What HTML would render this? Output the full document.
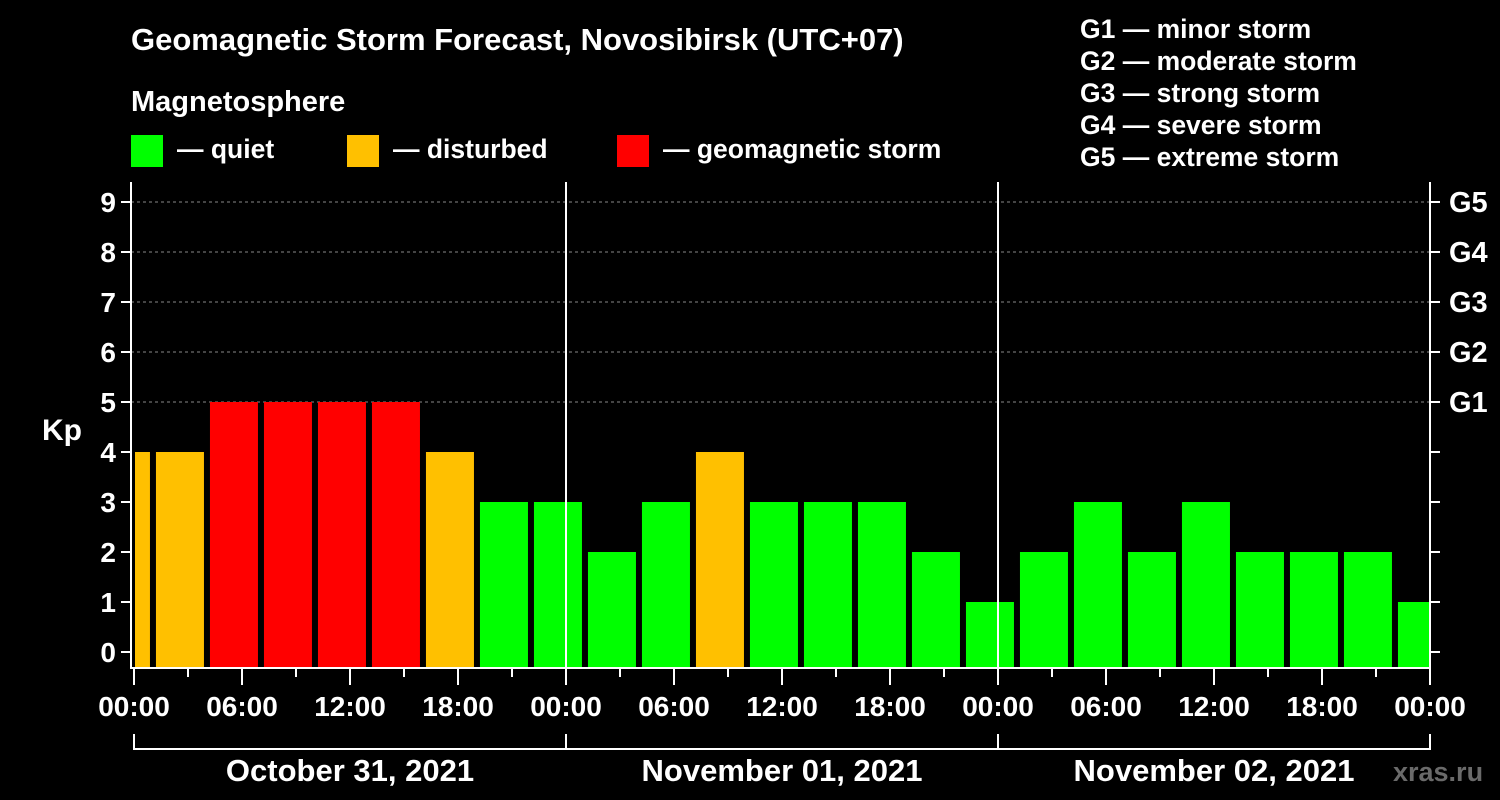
<!DOCTYPE html>
<html><head><meta charset="utf-8"><style>
html,body{margin:0;padding:0;background:#000;width:1500px;height:800px;overflow:hidden}
svg text{font-family:"Liberation Sans",Arial,sans-serif;font-weight:bold;fill:#fff}
</style></head><body>
<svg id="chart" width="1500" height="800" xmlns="http://www.w3.org/2000/svg">
<text x="131" y="50" font-size="31">Geomagnetic Storm Forecast, Novosibirsk (UTC+07)</text>
<text x="131" y="111" font-size="29">Magnetosphere</text>
<g>
<rect x="131" y="135" width="32" height="32" fill="#00ff00"/>
<text x="177" y="158" font-size="26.5">— quiet</text>
<rect x="347" y="135" width="32" height="32" fill="#ffc000"/>
<text x="393" y="158" font-size="26.5">— disturbed</text>
<rect x="617" y="135" width="32" height="32" fill="#ff0000"/>
<text x="663" y="158" font-size="26.5">— geomagnetic storm</text>
</g>
<g font-size="26.5">
<text x="1080" y="38">G1 — minor storm</text>
<text x="1080" y="70">G2 — moderate storm</text>
<text x="1080" y="102">G3 — strong storm</text>
<text x="1080" y="134">G4 — severe storm</text>
<text x="1080" y="166">G5 — extreme storm</text>
</g>
<text x="42" y="440" font-size="30">Kp</text>
<text x="1393" y="781" font-size="27" style="fill:#6a6a6a">xras.ru</text>
<g id="grid"></g><g id="bars"></g><g id="axes"></g>
</svg>
<script>
const kpValues=[4,4,5,5,5,5,4,3,3,2,3,4,3,3,3,2,1,2,3,2,3,2,2,2,1];
const yTicks=[0,1,2,3,4,5,6,7,8,9];
const gLabels=["","","","","","G1","G2","G3","G4","G5"];
const xTickLabels=["00:00","06:00","12:00","18:00","00:00","06:00","12:00","18:00","00:00","06:00","12:00","18:00","00:00"];
const dateLabels=["October 31, 2021","November 01, 2021","November 02, 2021"];
const firstBarHour=-1.78;
const NS="http://www.w3.org/2000/svg";
const L=131,R=1430,T=182,B=668;
const x=h=>134+h*18;
const y=k=>652-k*50;
function mk(tag,attrs,parent,txt){const e=document.createElementNS(NS,tag);for(const k in attrs)e.setAttribute(k,attrs[k]);if(txt!=null)e.textContent=txt;document.getElementById(parent).appendChild(e);return e;}
const color=k=>k>=5?"#ff0000":(k>=4?"#ffc000":"#00ff00");
yTicks.forEach(k=>{if(k>=5){const g=mk("line",{x1:L,x2:R,y1:y(k),y2:y(k),stroke:"#888","stroke-dasharray":"3,3","stroke-width":1},"grid");

}});
kpValues.forEach((v,i)=>{let x0=x(firstBarHour+3*i),x1=x0+48;x0=Math.max(x0,135);x1=Math.min(x1,R);
const r=mk("rect",{x:x0,y:y(v),width:x1-x0,height:B-y(v),fill:color(v)},"bars");

});
[1,2].forEach(d=>{const l=mk("line",{x1:x(24*d),x2:x(24*d),y1:T,y2:B,stroke:"#fff","stroke-width":2},"axes");

});
const frame=mk("path",{d:`M${L} ${T}V${B}H${R}V${T}`,stroke:"#fff","stroke-width":2,fill:"none"},"axes");


yTicks.forEach((k,i)=>{
mk("line",{x1:L-10,x2:L,y1:y(k),y2:y(k),stroke:"#fff","stroke-width":2},"axes");
mk("line",{x1:R,x2:R+10,y1:y(k),y2:y(k),stroke:"#fff","stroke-width":2},"axes");
const t=mk("text",{x:116,y:y(k)+10,"font-size":28,"text-anchor":"end"},"axes",String(k));


if(gLabels[i]){const g=mk("text",{x:1449,y:y(k)+10,"font-size":29},"axes",gLabels[i]);

}
});
for(let h=0;h<=72;h+=3){mk("line",{x1:x(h),x2:x(h),y1:B,y2:B+(h%6==0?17:9),stroke:"#fff","stroke-width":2},"axes");}
xTickLabels.forEach((s,i)=>{const t=mk("text",{x:x(6*i),y:716,"font-size":28,"text-anchor":"middle"},"axes",s);

});
const br=mk("path",{d:`M${x(0)} 734V749H${x(72)}V734M${x(24)} 734V749M${x(48)} 734V749`,stroke:"#fff","stroke-width":2,fill:"none"},"axes");


dateLabels.forEach((s,i)=>{const t=mk("text",{x:x(24*i+12),y:781,"font-size":31,"text-anchor":"middle"},"axes",s);

});
</script>
</body></html>
